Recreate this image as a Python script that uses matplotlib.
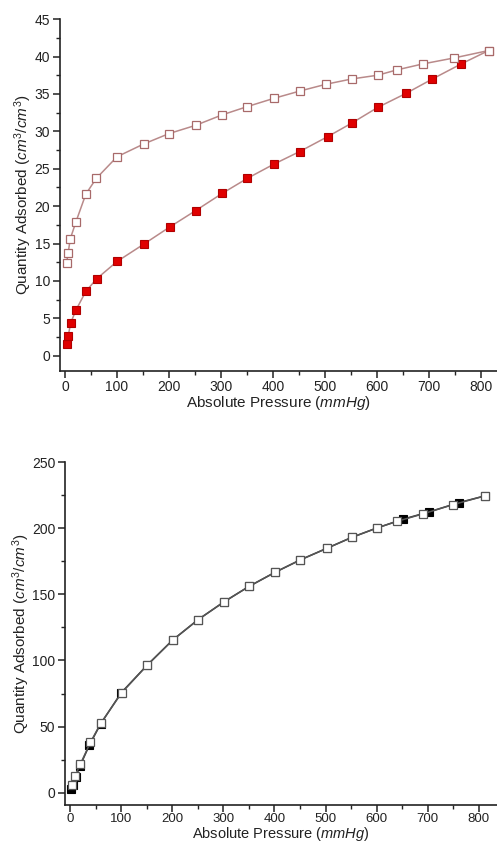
import matplotlib
matplotlib.use("Agg")
import matplotlib.pyplot as plt
from matplotlib.ticker import MultipleLocator

plt.rcParams['font.family'] = ['Liberation Sans', 'DejaVu Sans']
plt.rcParams['mathtext.fontset'] = 'custom'
plt.rcParams['mathtext.rm'] = 'Liberation Sans'
plt.rcParams['mathtext.it'] = 'Liberation Sans:italic'

# Top chart (red): adsorption (filled) and desorption (open)
top_ads_p = [3, 6, 11, 21, 40, 61, 100, 151, 201, 251, 302, 350, 401, 451, 505, 551, 601, 656, 706, 761, 814]
top_ads_q = [1.6, 2.6, 4.4, 6.1, 8.6, 10.3, 12.6, 14.9, 17.2, 19.4, 21.7, 23.7, 25.6, 27.3, 29.3, 31.1, 33.2, 35.1, 37.0, 39.0, 40.8]
top_des_p = [814, 747, 687, 637, 601, 551, 502, 452, 401, 350, 302, 251, 200, 151, 100, 60, 40, 21, 10, 6, 3]
top_des_q = [40.8, 39.8, 39.0, 38.2, 37.5, 37.0, 36.3, 35.4, 34.4, 33.3, 32.2, 30.8, 29.7, 28.3, 26.6, 23.7, 21.6, 17.9, 15.6, 13.7, 12.4]

# Bottom chart (black): adsorption (filled) and desorption (open)
bot_ads_p = [2, 6, 11, 20, 38, 60, 100, 151, 201, 251, 301, 350, 401, 451, 502, 551, 600, 652, 703, 761, 812]
bot_ads_q = [2.5, 6.0, 11.5, 20.5, 36.0, 52.0, 75.5, 96.5, 115.5, 131.0, 144.3, 156.0, 166.7, 176.2, 184.8, 193.1, 200.2, 207.0, 212.5, 219.5, 224.6]
bot_des_p = [812, 750, 691, 639, 600, 551, 502, 451, 401, 350, 301, 251, 201, 151, 101, 60, 40, 20, 10, 3]
bot_des_q = [224.6, 218.0, 211.0, 205.2, 200.2, 193.1, 184.8, 176.2, 166.7, 156.0, 144.3, 131.0, 115.5, 96.4, 75.5, 52.4, 38.0, 21.4, 12.6, 5.5]

xticks = [0, 100, 200, 300, 400, 500, 600, 700, 800]

W, H = 497, 846
fig = plt.figure(figsize=(W / 100, H / 100), dpi=100)

def px_axes(l, r, t, b):
    return fig.add_axes([l / W, 1 - b / H, (r - l) / W, (b - t) / H])

ax1 = px_axes(59.8, 497.0, 19.1, 370.7)
ax2 = px_axes(64.9, 496.7, 462.3, 804.5)

line_red = '#b98a8a'
ax1.plot(top_ads_p, top_ads_q, '-', color=line_red, lw=1.1, marker='s', ms=6,
         mfc='#e00000', mec='#b00000', mew=0.8, zorder=2)
ax1.plot(top_des_p, top_des_q, '-', color=line_red, lw=1.1, marker='s', ms=6,
         mfc='white', mec='#a86a6a', mew=0.9, zorder=3)
ax1.set_xlim(-10, 830)
ax1.set_ylim(-2, 45)
ax1.yaxis.set_major_locator(MultipleLocator(5))
ax1.yaxis.set_minor_locator(MultipleLocator(2.5))

ax2.plot(bot_ads_p, bot_ads_q, '-', color='#333333', lw=1.1, marker='s', ms=6,
         mfc='black', mec='black', mew=0.8, zorder=2)
ax2.plot(bot_des_p, bot_des_q, '-', color='#555555', lw=1.1, marker='s', ms=6,
         mfc='white', mec='#555555', mew=0.9, zorder=3)
ax2.set_xlim(-10, 835)
ax2.set_ylim(-9, 250)
ax2.yaxis.set_major_locator(MultipleLocator(50))
ax2.yaxis.set_minor_locator(MultipleLocator(25))

for ax in (ax1, ax2):
    ax.set_xticks(xticks)
    ax.xaxis.set_minor_locator(MultipleLocator(50))
    ax.spines['top'].set_visible(False)
    ax.spines['right'].set_visible(False)
    for s in ('left', 'bottom'):
        ax.spines[s].set_linewidth(1.2)
        ax.spines[s].set_color('#222222')
    ax.tick_params(which='major', direction='out', length=5, width=1.1, labelsize=10,
                   colors='#222222', pad=2)
    ax.tick_params(which='minor', direction='out', length=3, width=1.0, colors='#222222')
    ax.set_ylabel(r'Quantity Adsorbed ($\mathit{cm^3/cm^3}$)', fontsize=11, labelpad=0, color='#222222')

ax1.set_xlabel(r'Absolute Pressure ($\mathit{mmHg}$)', fontsize=11, labelpad=0, color='#222222')
ax2.tick_params(axis='x', which='major', pad=1, labelsize=9.5)
ax2.set_xlabel(r'Absolute Pressure ($\mathit{mmHg}$)', fontsize=10.5, labelpad=0, color='#222222')

fig.savefig('out.png', dpi=100)
